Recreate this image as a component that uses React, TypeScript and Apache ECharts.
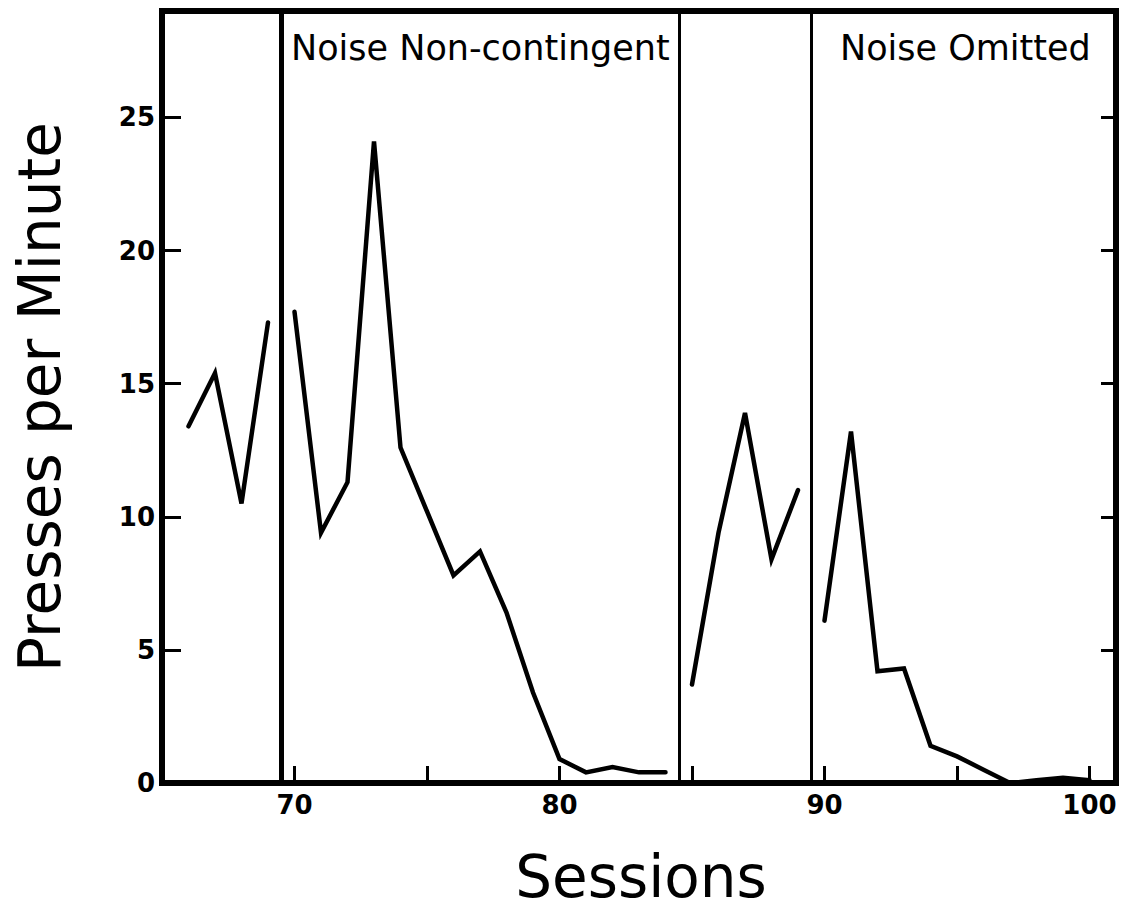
import React, { useEffect, useRef } from "react";
import * as echarts from "echarts";

// Sessions and response rates (presses per minute)
const baselineSessions = [66, 67, 68, 69];
const baselineValues = [13.4, 15.4, 10.5, 17.3];

const nonContingentSessions = [70, 71, 72, 73, 74, 75, 76, 77, 78, 79, 80, 81, 82, 83, 84];
const nonContingentValues = [17.7, 9.4, 11.3, 24.1, 12.6, 10.2, 7.8, 8.7, 6.4, 3.4, 0.9, 0.4, 0.6, 0.4, 0.4];

const returnSessions = [85, 86, 87, 88, 89];
const returnValues = [3.7, 9.4, 13.9, 8.4, 11.0];

const omittedSessions = [90, 91, 92, 93, 94, 95, 96, 97, 98, 99, 100];
const omittedValues = [6.1, 13.2, 4.2, 4.3, 1.4, 1.0, 0.5, 0.0, 0.1, 0.2, 0.1];

const phaseBoundaries = [69.5, 84.5, 89.5];
const boundaryWidths = [5, 3, 3];

const phaseLabels = ["Noise Non-contingent", "Noise Omitted"];
const xTickLabels = [70, 80, 90, 100];
const yTickLabels = [0, 5, 10, 15, 20, 25];

const FONT = "'DejaVu Sans', sans-serif";

function pairs(xs: number[], ys: number[]) {
  return xs.map((x, i) => [x, ys[i]]);
}

export default function App() {
  const ref = useRef<HTMLDivElement>(null);

  useEffect(() => {
    if (!ref.current) return;
    const chart = echarts.init(ref.current, undefined, { renderer: "svg" });

    const lineSeries = (data: number[][], extra: any = {}) => ({
      type: "line",
      data,
      symbol: "none",
      lineStyle: { color: "#000", width: 4.5, join: "miter", cap: "round" },
      silent: true,
      ...extra,
    });

    const option: any = {
      animation: false,
      backgroundColor: "#fff",
      grid: {
        left: 162,
        right: 13,
        top: 11,
        bottom: 130,
        show: true,
        borderColor: "#000",
        borderWidth: 6,
        backgroundColor: "transparent",
      },
      xAxis: {
        type: "value",
        min: 65,
        max: 101,
        interval: 5,
        splitLine: { show: false },
        axisLine: { show: false },
        axisTick: { show: true, inside: true, length: 17, lineStyle: { color: "#000", width: 3 } },
        axisLabel: {
          margin: 9,
          color: "#000",
          fontFamily: FONT,
          fontWeight: "bold",
          fontSize: 26,
          showMaxLabel: false,
          formatter: (v: number) => (xTickLabels.includes(v) ? String(v) : ""),
        },
      },
      yAxis: [
        {
          type: "value",
          min: 0,
          max: 29,
          interval: 5,
          position: "left",
          splitLine: { show: false },
          axisLine: { show: false },
          axisTick: { show: true, inside: true, length: 19, lineStyle: { color: "#000", width: 3 } },
          axisLabel: {
            margin: 7,
            color: "#000",
            fontFamily: FONT,
            fontWeight: "bold",
            fontSize: 26,
            showMaxLabel: false,
            formatter: (v: number) => (yTickLabels.includes(v) ? String(v) : ""),
          },
        },
        {
          type: "value",
          min: 0,
          max: 29,
          interval: 5,
          position: "right",
          splitLine: { show: false },
          axisLine: { show: false },
          axisTick: { show: true, inside: true, length: 15, lineStyle: { color: "#000", width: 3 } },
          axisLabel: { show: false },
        },
      ],
      series: [
        lineSeries(pairs(baselineSessions, baselineValues), {
          markLine: {
            silent: true,
            symbol: ["none", "none"],
            label: { show: false },
            data: phaseBoundaries.map((x, i) => ({
              xAxis: x,
              lineStyle: { color: "#000", width: boundaryWidths[i], type: "solid" },
            })),
          },
        }),
        lineSeries(pairs(nonContingentSessions, nonContingentValues)),
        lineSeries(pairs(returnSessions, returnValues)),
        lineSeries(pairs(omittedSessions, omittedValues)),
      ],
      graphic: [
        {
          type: "text",
          left: 291,
          top: 30,
          style: { text: phaseLabels[0], font: `35px ${FONT}`, fill: "#000" },
        },
        {
          type: "text",
          left: 840,
          top: 30,
          style: { text: phaseLabels[1], font: `35px ${FONT}`, fill: "#000" },
        },
        {
          type: "text",
          x: 40,
          y: 397,
          rotation: Math.PI / 2,
          style: {
            text: "Presses per Minute",
            font: `58px ${FONT}`,
            fill: "#000",
            align: "center",
            verticalAlign: "middle",
          },
        },
        {
          type: "text",
          x: 641,
          y: 877,
          style: {
            text: "Sessions",
            font: `58px ${FONT}`,
            fill: "#000",
            align: "center",
            verticalAlign: "middle",
          },
        },
      ],
    };

    chart.setOption(option);
    return () => chart.dispose();
  }, []);

  return (
    <div
      ref={ref}
      style={{ position: "fixed", left: 0, top: 0, width: 1129, height: 913, background: "#fff" }}
    />
  );
}
